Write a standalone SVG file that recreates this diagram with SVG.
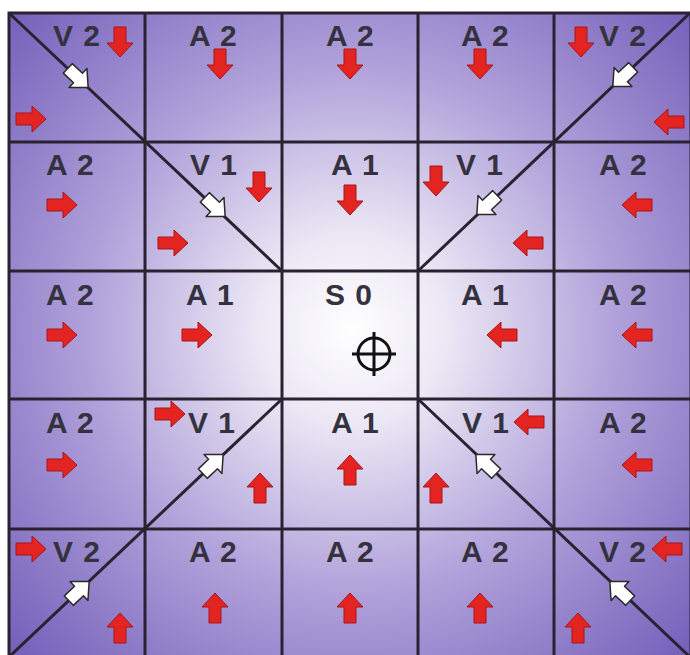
<svg xmlns="http://www.w3.org/2000/svg" xmlns:xlink="http://www.w3.org/1999/xlink" width="690" height="655" viewBox="0 0 690 655">
<defs>
<radialGradient id="bg" gradientUnits="userSpaceOnUse" cx="352" cy="330" r="480">
<stop offset="0" stop-color="#ffffff"/>
<stop offset="0.2" stop-color="#ebe7f4"/>
<stop offset="0.55" stop-color="#b0a1da"/>
<stop offset="1" stop-color="#715cb8"/>
</radialGradient>
<polygon id="ra" points="-15,-6 1,-6 1,-13 15,0 1,13 1,6 -15,6" fill="#e42420" stroke="#a8151a" stroke-width="1"/>
<polygon id="wa" points="-14,-6.5 0,-6.5 0,-13 14,0 0,13 0,6.5 -14,6.5" fill="#ffffff" stroke="#2a2a2a" stroke-width="1.5" stroke-linejoin="round"/>
<style>
.lbl{font-family:"Liberation Sans",Arial,sans-serif;font-weight:bold;font-size:30px;fill:#34323e;letter-spacing:1px}
.grid{stroke:#2a2230;stroke-width:3;fill:none}
</style>
</defs>
<rect x="0" y="0" width="690" height="655" fill="#ffffff"/>
<rect x="9" y="13" width="681" height="644" fill="url(#bg)"/>
<g id="grid">
<rect class="grid" x="9" y="13" width="682" height="646"/>
<line class="grid" x1="145" y1="13" x2="145" y2="657"/>
<line class="grid" x1="282" y1="13" x2="282" y2="657"/>
<line class="grid" x1="418" y1="13" x2="418" y2="657"/>
<line class="grid" x1="554" y1="13" x2="554" y2="657"/>
<line class="grid" x1="9" y1="142" x2="690" y2="142"/>
<line class="grid" x1="9" y1="271" x2="690" y2="271"/>
<line class="grid" x1="9" y1="399" x2="690" y2="399"/>
<line class="grid" x1="9" y1="529" x2="690" y2="529"/>
<line class="grid" x1="9" y1="13" x2="282" y2="271"/>
<line class="grid" x1="690" y1="13" x2="418" y2="271"/>
<line class="grid" x1="9" y1="657" x2="282" y2="399"/>
<line class="grid" x1="690" y1="657" x2="418" y2="399"/>
</g>
<g id="r0c0"><text class="lbl" x="53" y="46">V 2</text><use href="#ra" transform="translate(120,42) rotate(90)"/><use href="#wa" transform="translate(78,78) rotate(43.4)"/><use href="#ra" transform="translate(31,119)"/></g>
<g id="r0c1"><text class="lbl" x="189" y="46">A 2</text><use href="#ra" transform="translate(220,64) rotate(90)"/></g>
<g id="r0c2"><text class="lbl" x="326" y="46">A 2</text><use href="#ra" transform="translate(350,64) rotate(90)"/></g>
<g id="r0c3"><text class="lbl" x="461" y="46">A 2</text><use href="#ra" transform="translate(480,64) rotate(90)"/></g>
<g id="r0c4"><use href="#ra" transform="translate(581,42) rotate(90)"/><text class="lbl" x="599" y="46">V 2</text><use href="#wa" transform="translate(623,77) rotate(136.6)"/><use href="#ra" transform="translate(669,122) rotate(180)"/></g>
<g id="r1c0"><text class="lbl" x="46" y="175">A 2</text><use href="#ra" transform="translate(62,205)"/></g>
<g id="r1c1"><text class="lbl" x="190" y="175">V 1</text><use href="#ra" transform="translate(259,187) rotate(90)"/><use href="#wa" transform="translate(215,207) rotate(43.4)"/><use href="#ra" transform="translate(173,243)"/></g>
<g id="r1c2"><text class="lbl" x="331" y="175">A 1</text><use href="#ra" transform="translate(350,200) rotate(90)"/></g>
<g id="r1c3"><use href="#ra" transform="translate(436,181) rotate(90)"/><text class="lbl" x="456" y="175">V 1</text><use href="#wa" transform="translate(487,205) rotate(136.6)"/><use href="#ra" transform="translate(528,243) rotate(180)"/></g>
<g id="r1c4"><text class="lbl" x="599" y="175">A 2</text><use href="#ra" transform="translate(637,205) rotate(180)"/></g>
<g id="r2c0"><text class="lbl" x="46" y="305">A 2</text><use href="#ra" transform="translate(62,335)"/></g>
<g id="r2c1"><text class="lbl" x="186" y="305">A 1</text><use href="#ra" transform="translate(197,335)"/></g>
<g id="r2c2"><text class="lbl" x="325" y="305">S 0</text><g id="target" stroke="#111111" stroke-width="3" fill="none"><circle cx="374" cy="354" r="16"/><line x1="352" y1="354" x2="396" y2="354"/><line x1="374" y1="332" x2="374" y2="376"/></g></g>
<g id="r2c3"><text class="lbl" x="461" y="305">A 1</text><use href="#ra" transform="translate(502,335) rotate(180)"/></g>
<g id="r2c4"><text class="lbl" x="599" y="305">A 2</text><use href="#ra" transform="translate(637,335) rotate(180)"/></g>
<g id="r3c0"><text class="lbl" x="46" y="433">A 2</text><use href="#ra" transform="translate(62,465)"/></g>
<g id="r3c1"><use href="#ra" transform="translate(170,414)"/><text class="lbl" x="188" y="433">V 1</text><use href="#wa" transform="translate(213,464) rotate(-43.4)"/><use href="#ra" transform="translate(260,488) rotate(-90)"/></g>
<g id="r3c2"><text class="lbl" x="331" y="433">A 1</text><use href="#ra" transform="translate(350,470) rotate(-90)"/></g>
<g id="r3c3"><use href="#ra" transform="translate(436,488) rotate(-90)"/><text class="lbl" x="462" y="433">V 1</text><use href="#wa" transform="translate(486,464) rotate(-136.6)"/><use href="#ra" transform="translate(529,422) rotate(180)"/></g>
<g id="r3c4"><text class="lbl" x="599" y="433">A 2</text><use href="#ra" transform="translate(637,465) rotate(180)"/></g>
<g id="r4c0"><use href="#ra" transform="translate(31,549)"/><text class="lbl" x="53" y="562">V 2</text><use href="#wa" transform="translate(79,591) rotate(-43.4)"/><use href="#ra" transform="translate(120,628) rotate(-90)"/></g>
<g id="r4c1"><text class="lbl" x="189" y="562">A 2</text><use href="#ra" transform="translate(215,608) rotate(-90)"/></g>
<g id="r4c2"><text class="lbl" x="326" y="562">A 2</text><use href="#ra" transform="translate(350,608) rotate(-90)"/></g>
<g id="r4c3"><text class="lbl" x="461" y="562">A 2</text><use href="#ra" transform="translate(480,608) rotate(-90)"/></g>
<g id="r4c4"><text class="lbl" x="599" y="562">V 2</text><use href="#ra" transform="translate(667,549) rotate(180)"/><use href="#wa" transform="translate(620,591) rotate(-136.6)"/><use href="#ra" transform="translate(578,628) rotate(-90)"/></g>
</svg>
